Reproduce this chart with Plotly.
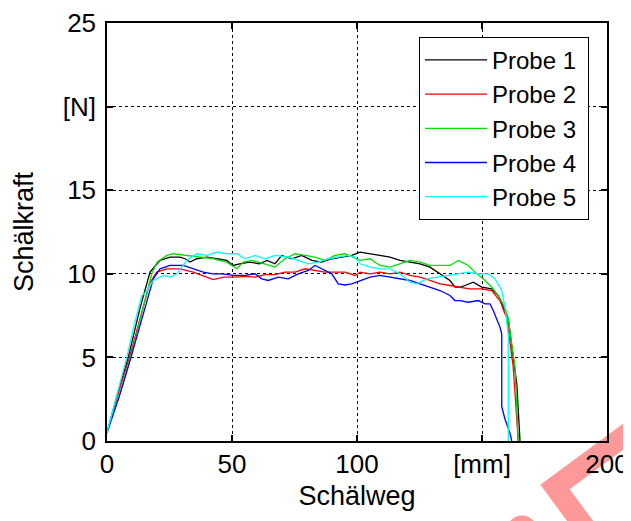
import plotly.graph_objects as go

# ---- data ----
x_probe1 = [0, 4, 8.5, 13.2, 17.2, 21.2, 25.2, 29.2, 31.2, 33.2, 35.9, 39.9, 44, 47.9, 50.5, 53, 57, 61, 64,
            67.2, 69.9, 73.9, 77.9, 81.9, 85.9, 89.9, 93.9, 97.9, 101.2, 105.2, 109.2, 113.2, 117.2, 121.2,
            125.2, 129.2, 133.2, 137.2, 139.2, 141.2, 143.2, 146.5, 149.9, 153.9, 156.5, 159.2, 160.5, 162.5,
            163.9, 165.2]
y_probe1 = [0.5, 2.7, 5.0, 7.95, 10.1, 10.8, 11.0, 11.0, 10.9, 10.7, 10.9, 11.0, 10.9, 10.8, 10.5, 10.6, 10.7,
            10.6, 10.8, 10.6, 11.1, 10.9, 11.1, 10.8, 10.7, 10.9, 11.0, 11.1, 11.3, 11.2, 11.1, 11.0, 10.8,
            10.7, 10.6, 10.4, 10.0, 9.6, 9.2, 9.2, 9.3, 9.5, 9.2, 9.1, 8.7, 7.8, 7.3, 5.0, 3.45, 0.0]

x_probe2 = [0, 4, 9.0, 13.5, 17, 19.9, 23.9, 29.2, 34.5, 39.9, 42.5, 46.5, 50.5, 55.9, 59.2, 63.2, 67.2,
            71.2, 75.2, 79.2, 83.2, 87.2, 91.2, 95.2, 99.2, 101.2, 105.2, 109.2, 113.2, 117.2, 121.2, 125.2,
            129.2, 133.2, 137.2, 141.2, 145, 149.9, 153.9, 156.5, 157.2, 159.2, 159.9, 162.5, 164.5]
y_probe2 = [0.5, 2.6, 5.0, 7.5, 9.4, 10.1, 10.3, 10.3, 10.1, 9.8, 9.65, 9.8, 9.8, 9.85, 9.8, 9.95, 9.95,
            10.1, 10.1, 10.3, 10.2, 10.1, 10.1, 10.1, 9.9, 10.1, 10.0, 10.1, 10.0, 10.1, 9.9, 9.8, 9.6, 9.4,
            9.3, 9.2, 9.1, 9.1, 9.0, 8.5, 8.4, 7.6, 7.4, 4.4, 0.0]

x_probe3 = [0, 3, 6.5, 10, 14, 17.9, 20, 23.9, 26.5, 31.9, 37.2, 42.5, 47.9, 51.9, 54.5, 58, 63, 67.2,
            71.2, 75.2, 79.2, 83.2, 87.2, 91.2, 95.2, 99.2, 101.2, 105.2, 109.2, 113.2, 117.2, 121.2, 125.2,
            129.2, 133.2, 137.2, 140.5, 144.5, 147.2, 151.2, 153.9, 156.5, 159.2, 160.5, 163.2, 164.5]
y_probe3 = [0.5, 1.9, 3.45, 5.3, 7.7, 10.0, 10.7, 11.1, 11.2, 11.1, 11.0, 10.9, 10.7, 10.3, 10.7, 10.8,
            10.6, 10.4, 10.9, 11.2, 11.1, 11.0, 10.8, 11.1, 11.2, 10.9, 10.8, 10.9, 10.5, 10.4, 10.6, 10.8,
            10.7, 10.5, 10.5, 10.5, 10.8, 10.5, 10.1, 9.6, 9.2, 8.7, 8.0, 7.3, 4.4, 0.0]

x_probe4 = [0, 5, 9.6, 14, 18.5, 21.2, 25.2, 30.5, 34.5, 38.5, 42.5, 46, 50.5, 55.2, 59.2, 61.9, 64.5,
            68.5, 72.5, 76.5, 80.5, 83.2, 85.9, 89.9, 92.5, 95.2, 97.9, 101.2, 105.2, 109.2, 113.2, 117.2,
            121.2, 125.2, 129.2, 133.2, 137.2, 139.2, 141.2, 144.5, 148.5, 151.2, 153.2, 154.5, 157.2, 157.9,
            157.9, 159.2, 161.2, 161.9]
y_probe4 = [0.5, 2.7, 5.0, 7.4, 9.7, 10.3, 10.5, 10.5, 10.3, 10.1, 10.0, 10.0, 9.9, 9.9, 10.0, 9.7, 9.6,
            9.8, 9.7, 10.0, 10.2, 10.5, 10.3, 10.0, 9.4, 9.33, 9.4, 9.6, 9.8, 9.9, 9.8, 9.7, 9.6, 9.4, 9.2,
            9.0, 8.7, 8.4, 8.4, 8.3, 8.4, 8.2, 8.2, 7.8, 6.8, 6.4, 2.05, 1.3, 0.46, 0.0]

x_probe5 = [0, 4, 7.9, 11, 13.9, 15.5, 18.5, 22.5, 25.2, 27.9, 31.9, 35.9, 39.9, 43.9, 47.9, 51.9, 55.2,
            59.2, 63, 67.2, 72.5, 76.5, 80.5, 84.5, 88.5, 92.5, 96.5, 99.2, 101.2, 105.2, 109.2, 113.2,
            117.2, 121.2, 123.9, 127.9, 131.9, 135.9, 139.9, 144.5, 148.5, 152.5, 155.2, 157.9, 159.2, 160.5,
            160.5]
y_probe5 = [0.5, 2.8, 5.0, 7.0, 8.7, 8.9, 9.6, 9.9, 9.8, 10.0, 10.8, 11.2, 11.1, 11.3, 11.2, 11.2, 10.9,
            11.1, 10.9, 11.1, 11.0, 10.8, 10.6, 10.7, 10.9, 11.0, 11.1, 11.0, 10.6, 10.4, 10.3, 10.3, 10.0,
            9.5, 9.4, 9.7, 9.8, 9.9, 10.0, 10.1, 10.0, 10.0, 9.7, 9.0, 8.0, 6.4, 0.0]

series_names = ["Probe 1", "Probe 2", "Probe 3", "Probe 4", "Probe 5"]
series_x = [x_probe1, x_probe2, x_probe3, x_probe4, x_probe5]
series_y = [y_probe1, y_probe2, y_probe3, y_probe4, y_probe5]
series_colors = ["#000000", "#ff0000", "#00e000", "#0000ff", "#00ffff"]

x_tickvals = [0, 50, 100, 150, 200]
x_ticktext = ["0", "50", "100", "[mm]", "200"]
y_tickvals = [0, 5, 10, 15, 20, 25]
y_ticktext = ["0", "5", "10", "15", "[N]", "25"]

FONT = "Liberation Sans, Arial, sans-serif"

fig = go.Figure()
for name, xs, ys, c in zip(series_names, series_x, series_y, series_colors):
    fig.add_trace(go.Scatter(x=xs, y=ys, mode="lines", name=name + "\u00a0",
                             line=dict(color=c, width=1.3)))

axis_common = dict(
    showline=True, linecolor="black", linewidth=1.5, mirror="ticks",
    ticks="inside", ticklen=6, tickwidth=1.5, tickcolor="black",
    showgrid=True, gridcolor="black", gridwidth=1, griddash="dot",
    zeroline=False, automargin=False,
    tickfont=dict(family=FONT, size=26, color="black"),
)

# page body has an 8px margin, so the figure is 8px smaller than the window
fig.update_layout(
    width=623, height=513,
    margin=dict(l=99, r=24, t=15, b=80),
    paper_bgcolor="white", plot_bgcolor="white",
    font=dict(family=FONT, color="black"),
    xaxis=dict(range=[0, 200], tickvals=x_tickvals, ticktext=x_ticktext, ticklabelstandoff=-1,
               title=dict(text="Schälweg", font=dict(family=FONT, size=27), standoff=8),
               **axis_common),
    yaxis=dict(range=[0, 25], tickvals=y_tickvals, ticktext=y_ticktext, ticklabelstandoff=4,
               title=dict(text="Schälkraft", font=dict(family=FONT, size=27), standoff=21),
               **axis_common),
    legend=dict(x=0.624, y=0.967, xanchor="left", yanchor="top", itemwidth=62,
                bgcolor="white", bordercolor="black", borderwidth=1,
                font=dict(family=FONT, size=24, color="black")),
    showlegend=True,
)

# decorative watermark (red chevron + dot) in the lower right corner, behind the text
fig.add_shape(type="path", xref="paper", yref="paper",
              path="M 1.05,0.026 L 0.896,-0.11 L 0.964,-0.22",
              line=dict(color="rgba(255,0,0,0.4)", width=21), layer="below")
fig.add_shape(type="circle", xref="paper", yref="paper",
              x0=0.8, x1=0.86, y0=-0.25, y1=-0.178,
              fillcolor="rgba(255,0,0,0.4)", line=dict(width=0), layer="below")

fig.write_html("out.html")
